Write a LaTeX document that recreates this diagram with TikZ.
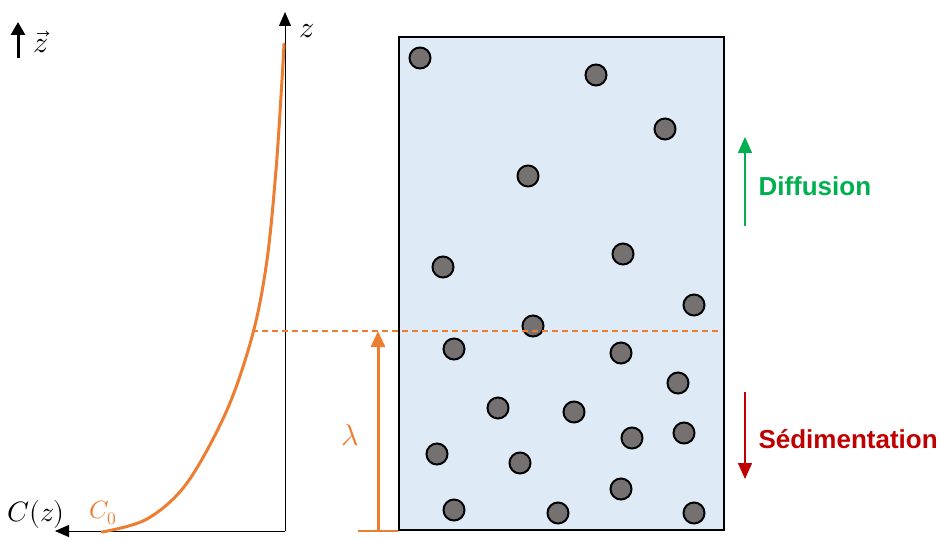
\documentclass[tikz,border=0pt]{standalone}
\usepackage{fontspec}
\usepackage{unicode-math}
\newfontfamily\labelfont{Liberation Sans}
\usetikzlibrary{arrows.meta}
\definecolor{profil}{RGB}{237,125,49}
\definecolor{eau}{RGB}{222,235,247}
\definecolor{grain}{RGB}{118,113,113}
\definecolor{diffvert}{RGB}{0,176,80}
\definecolor{sedrouge}{RGB}{192,0,0}
\tikzset{
  axe/.style={line width=1pt,-{Triangle[length=14pt,width=12pt]}},
  particule/.style={draw=black,line width=2pt,fill=grain},
  flux/.style={line width=1.5pt,-{Triangle[length=16pt,width=14pt]}},
  grandlabel/.style={font=\labelfont\bfseries\fontsize{26}{30}\selectfont,anchor=west},
  mathlabel/.style={font=\fontsize{30}{34}\selectfont},
}
\begin{document}
\begin{tikzpicture}[x=1pt,y=-1pt]
  % pixel coordinates, y measured downwards
  \useasboundingbox (0,0) rectangle (941,540);
  \coordinate (O) at (285,531);
  \coordinate (ztop) at (285,12);
  \coordinate (cleft) at (55,531);
  \coordinate (lbas) at (378,531);
  \coordinate (lhaut) at (378,331);
  % axes
  \draw[axe] (O) -- (ztop);
  \draw[axe] (O) -- (cleft);
  \node[mathlabel] (zlab) at (307,31) {$z$};
  \node[mathlabel,font=\fontsize{28}{32}\selectfont] (clab) at (36,514) {$C(z)$};
  \node[mathlabel,text=profil,font=\fontsize{25}{30}\selectfont] (c0lab) at (103,513) {$C_0$};
  % unit vector
  \coordinate (ub) at (18,58);
  \coordinate (uh) at (18,22);
  \draw[line width=3pt,-{Triangle[length=13pt,width=14pt]}] (ub) -- (uh);
  \node[mathlabel] (vz) at (41,42) {$\vec{z}$};
  % container with particles
  \draw[fill=eau,line width=2pt] (399,37) rectangle (724,530);
  \foreach \x/\y in {420/58,596/75,665/129,528/176,443/267,623/254,694/305,533/326,
    454/349,621/353,678/383,498/408,574/412,632/438,684/433,437/454,520/463,
    621/489,454/510,558/513,694/513}{
    \draw[particule] (\x,\y) circle (10.5);
  }
  % concentration profile
  \draw[profil,line width=3pt,line cap=round] plot[smooth,tension=0.55] coordinates {
    (102,532) (147,519) (187,483) (227,410) (253,333) (267,260) (276,170) (282,80) (284,44)};
  % lambda
  \coordinate (dg) at (252,331);
  \coordinate (dd) at (722,331);
  \draw[profil,line width=1.3pt,dash pattern=on 6pt off 4pt] (dg) -- (dd);
  \draw[profil,line width=1.5pt] (358,531) -- (lbas) -- (398,531);
  \draw[profil,line width=3pt,-{Triangle[length=16pt,width=14pt]}] (lbas) -- (lhaut);
  \node[mathlabel,text=profil] (lam) at (350,435) {$\lambda$};
  % fluxes
  \coordinate (db) at (745,226);
  \coordinate (dh) at (745,137);
  \coordinate (sh) at (745,392);
  \coordinate (sb) at (745,479);
  \draw[flux,diffvert] (db) -- (dh);
  \draw[flux,sedrouge] (sh) -- (sb);
  \node[grandlabel,text=diffvert] (diff) at (755,186) {Diffusion};
  \node[grandlabel,text=sedrouge] (sed) at (755,439) {Sédimentation};
\end{tikzpicture}
\end{document}
